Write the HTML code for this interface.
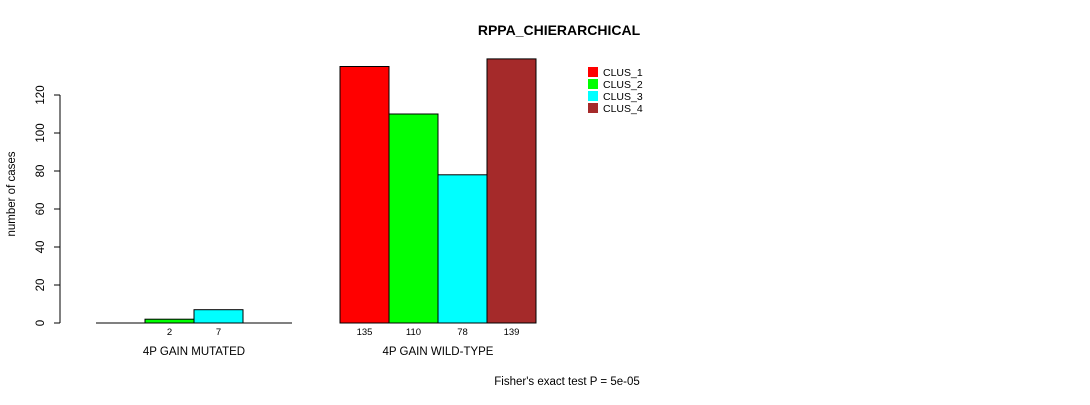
<!DOCTYPE html>
<html><head><meta charset="utf-8"><style>
body{margin:0;background:#fff;width:1090px;height:400px;overflow:hidden}
svg{font-family:"Liberation Sans",Arial,sans-serif}
</style></head><body>
<svg id="chart" width="1090" height="400" xmlns="http://www.w3.org/2000/svg">
<text x="559" y="35" text-anchor="middle" font-size="14" font-weight="bold">RPPA_CHIERARCHICAL</text>
<text x="0" y="0" transform="translate(15,194) rotate(-90)" text-anchor="middle" font-size="11.5">number of cases</text>
<text x="567" y="385" text-anchor="middle" font-size="11.5">Fisher's exact test P = 5e-05</text>
<g id="axis"></g><g id="bars"></g><g id="legend"></g>
</svg>
<script>
const groups = ["4P GAIN MUTATED", "4P GAIN WILD-TYPE"];
const series = ["CLUS_1", "CLUS_2", "CLUS_3", "CLUS_4"];
const colors = ["#ff0000", "#00ff00", "#00ffff", "#a52a2a"];
const mutated = [0, 2, 7, 0];
const wildtype = [135, 110, 78, 139];
const yTicks = [0, 20, 40, 60, 80, 100, 120];

const NS = "http://www.w3.org/2000/svg";
const y0 = 323, ppu = 1.9, bw = 49, groupX = [96, 340];
function yScale(v){ return y0 - v * ppu; }
function mk(tag, attrs, parent, txt){
  const e = document.createElementNS(NS, tag);
  for (const k in attrs) e.setAttribute(k, attrs[k]);
  if (txt !== undefined) e.textContent = txt;
  parent.appendChild(e); return e;
}
const ax = document.getElementById('axis');
const axLine = mk('line', {x1:60, x2:60, y1:yScale(120), y2:yScale(0), stroke:'#000'}, ax);


yTicks.forEach(t => {
  const y = yScale(t);
  const tk = mk('line', {x1:54, x2:60, y1:y, y2:y, stroke:'#000'}, ax);
  
  
  const lb = mk('text', {transform:`translate(44,${y}) rotate(-90)`, 'text-anchor':'middle', 'font-size':11.5}, ax, String(t));
  
  
});
const bars = document.getElementById('bars');
[mutated, wildtype].forEach((vals, gi) => {
  vals.forEach((v, i) => {
    const x = groupX[gi] + i * bw;
    let r;
    if (v > 0) {
      r = mk('rect', {x:x, y:yScale(v), width:bw, height:v*ppu, fill:colors[i], stroke:'#000', 'stroke-width':1}, bars);
    } else {
      r = mk('line', {x1:x, x2:x+bw, y1:yScale(0), y2:yScale(0), stroke:'#000', 'stroke-width':1}, bars);
    }
    
    
    if (v > 0) {
      const t = mk('text', {x:x + bw/2, y:335, 'text-anchor':'middle', 'font-size':9.5}, bars, String(v));
      
      
    }
  });
  const gl = mk('text', {x:groupX[gi] + bw*2, y:355, 'text-anchor':'middle', 'font-size':11.5}, bars, groups[gi]);
  
  
});
const lg = document.getElementById('legend');
series.forEach((s, i) => {
  const y = 67 + i * 12;
  const r = mk('rect', {x:588, y:y, width:10, height:10, fill:colors[i]}, lg);
  
  
  const t = mk('text', {x:603, y:y + 9, 'font-size':10.5}, lg, s);
  
  
});
</script>
</body></html>
